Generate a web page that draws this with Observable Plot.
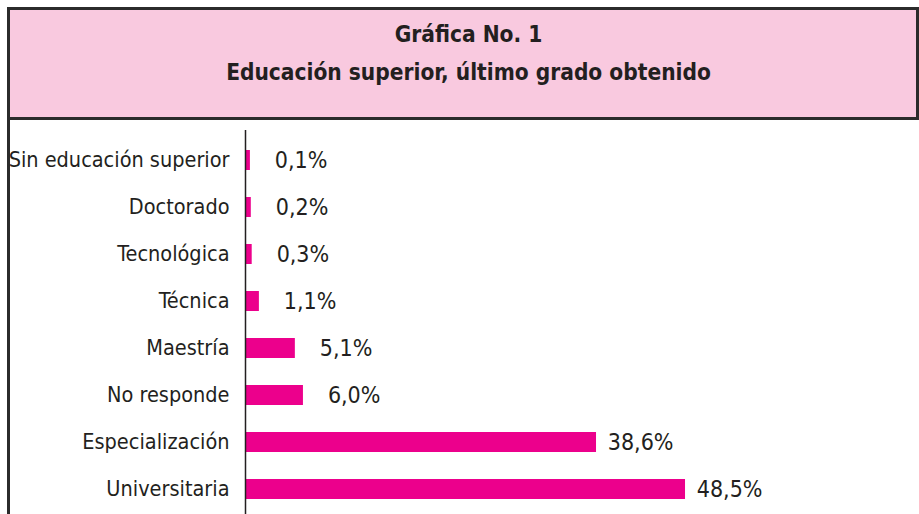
<!DOCTYPE html>
<html>
<head>
<meta charset="utf-8">
<script src="https://cdn.jsdelivr.net/npm/d3@7"></script>
<script src="https://cdn.jsdelivr.net/npm/@observablehq/plot@0.6"></script>
<style>
  html, body { margin: 0; padding: 0; background: #ffffff; width: 919px; height: 514px; overflow: hidden; }
  body { font-family: "DejaVu Sans Condensed", "Liberation Sans", sans-serif; color: #231f20; }
  #header {
    position: absolute; top: 7px; left: 7px; width: 895px; height: 102px;
    background: #f9c9df; border: 3px solid #2b2b2b;
    text-align: center; font-weight: bold; font-size: 22.5px; line-height: 38px;
    padding-top: 5px; padding-left: 11px; box-sizing: content-box;
  }
  #chart { position: absolute; top: 120px; left: 7px; width: 909px; height: 394px; border-left: 3px solid #2b2b2b; }
</style>
</head>
<body>
<div id="header"></div>
<div id="chart"></div>
<script>
const categories = ["Sin educación superior", "Doctorado", "Tecnológica", "Técnica", "Maestría", "No responde", "Especialización", "Universitaria"];
const values = [0.1, 0.2, 0.3, 1.1, 5.1, 6.0, 38.6, 48.5];
const valueLabels = ["0,1%", "0,2%", "0,3%", "1,1%", "5,1%", "6,0%", "38,6%", "48,5%"];
const titleLines = ["Gráfica No. 1", "Educación superior, último grado obtenido"];

const header = document.getElementById("header");
titleLines.forEach(t => { const d = document.createElement("div"); d.textContent = t; header.appendChild(d); });

const data = categories.map((c, i) => ({category: c, value: values[i], label: valueLabels[i]}));

const chart = Plot.plot({
  width: 909,
  height: 394,
  marginLeft: 235,
  marginTop: 10,
  marginBottom: 0,
  marginRight: 0,
  style: {fontFamily: '"DejaVu Sans Condensed", sans-serif', color: "#231f20", background: "transparent", overflow: "visible"},
  x: {domain: [0, 50], range: [239, 688.5], axis: null},
  y: {domain: categories, range: [28, 380], paddingInner: 0.578, paddingOuter: 0, label: null},
  marks: [
    Plot.barX(data, {x1: 0, x2: "value", y: "category", fill: "#ec008c", insetLeft: -4}),
    Plot.ruleX([0], {dx: -4, stroke: "#231f20", strokeWidth: 1.5}),
    Plot.axisY({tickSize: 0, tickPadding: 16, fontSize: 21.5, fill: "#231f20", label: null}),
    Plot.text(data, {x: "value", y: "category", text: "label", textAnchor: "end", dx: 77, fontSize: 23, fill: "#231f20"})
  ]
});
document.getElementById("chart").appendChild(chart);
</script>
</body>
</html>
